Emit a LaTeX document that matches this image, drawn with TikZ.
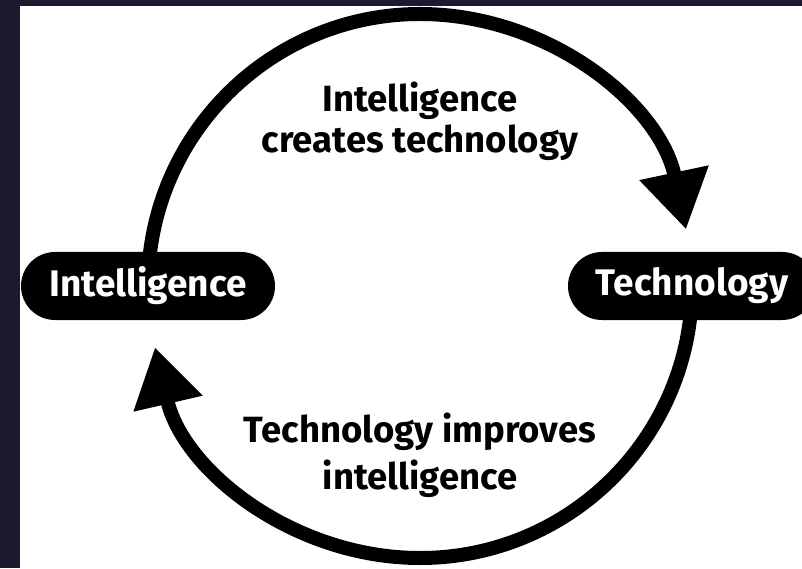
\documentclass[tikz,border=0pt]{standalone}
\usepackage{fontspec}
\setmainfont{Fira Sans}
\usetikzlibrary{arrows.meta,backgrounds}
\definecolor{frame}{RGB}{27,26,46}
\tikzset{
  pill/.style={fill=black, text=white, rounded corners=34pt, minimum height=68pt,
    inner sep=0pt, font=\fontsize{37}{41}\selectfont\bfseries},
  roundarrow/.style={line width=14pt, -{Triangle[length=58pt,width=67pt]}},
  saying/.style={align=center, anchor=base, font=\fontsize{36.5}{41}\selectfont\bfseries},
}
\begin{document}
\begin{tikzpicture}[x=1pt,y=1pt]
  \useasboundingbox (0,0) rectangle (802,568);
  \clip (0,0) rectangle (802,568);
  % the two stages
  \node[pill, minimum width=254pt] (intel) at (148,282) {Intelligence};
  \node[pill, minimum width=248pt] (tech) at (692,282) {Technology};
  % what happens on each half of the loop
  \node[saying] (create) at (420,415) {Intelligence\\creates technology};
  \node[saying] (improve) at (420,79) {Technology improves\\[6pt]intelligence};
  \begin{pgfonlayer}{background}
    \fill[frame] (0,0) rectangle (802,568);
    \fill[white] (20,0) rectangle (802,562);
    \draw[roundarrow] (intel.center) arc[start angle=180, end angle=12, radius=272];
    \draw[roundarrow] (tech.center) arc[start angle=0, end angle=-167, radius=272];
  \end{pgfonlayer}
\end{tikzpicture}
\end{document}
